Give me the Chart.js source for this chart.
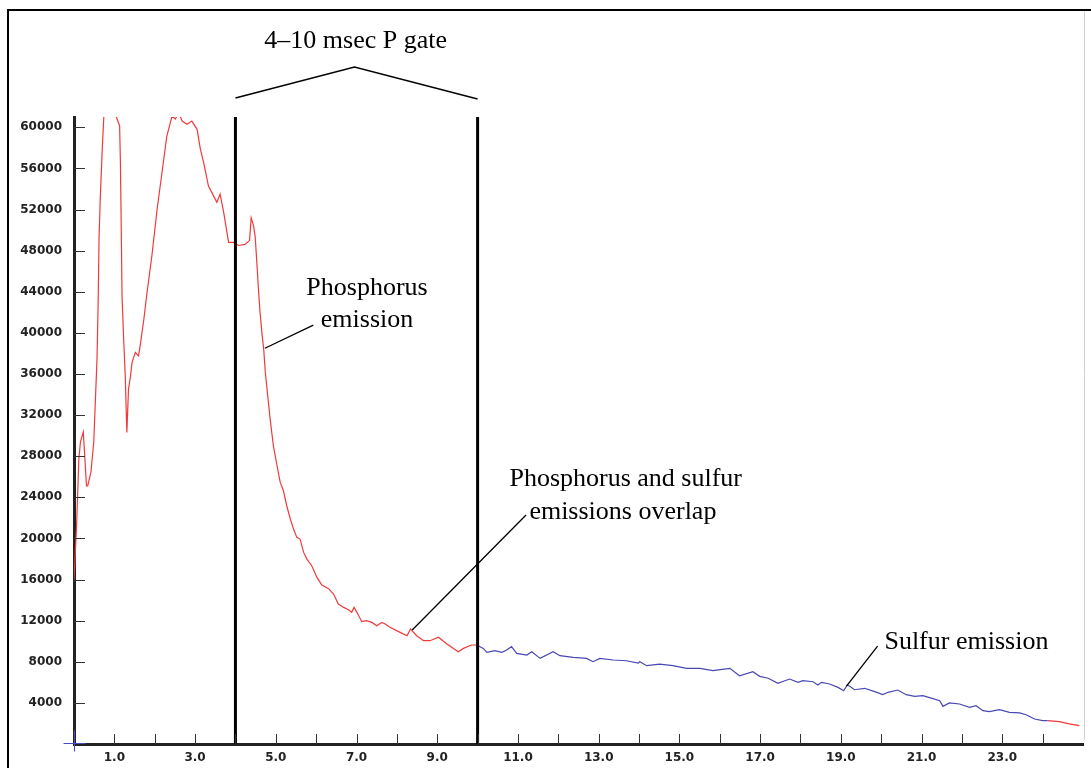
<!DOCTYPE html>
<html>
<head>
<meta charset="utf-8">
<script src="https://cdn.jsdelivr.net/npm/chart.js@4.4.0/dist/chart.umd.min.js"></script>
<style>
html,body{margin:0;padding:0;background:#fff;}
#wrap{position:relative;width:1091px;height:768px;}
</style>
</head>
<body>
<div id="wrap"><canvas id="c" width="1091" height="768"></canvas></div>
<script>
// Phosphorus emission (red, 0 - 10 ms)
const pTime  = [0.00,0.06,0.09,0.12,0.16,0.23,0.31,0.34,0.42,0.49,0.57,0.60,0.62,0.65,0.70,0.74,0.80,0.90,0.98,1.02,1.13,1.15,1.17,1.19,1.23,1.27,1.30,1.31,1.35,1.40,1.44,1.52,1.60,1.64,1.73,1.81,1.93,2.06,2.18,2.30,2.43,2.51,2.59,2.68,2.80,2.92,3.05,3.13,3.21,3.33,3.46,3.54,3.62,3.71,3.83,3.95,4.08,4.24,4.35,4.39,4.45,4.49,4.53,4.57,4.61,4.66,4.70,4.74,4.80,4.86,4.94,5.03,5.11,5.19,5.27,5.36,5.44,5.52,5.60,5.69,5.77,5.89,6.02,6.14,6.30,6.43,6.55,6.68,6.80,6.88,6.94,7.01,7.13,7.25,7.38,7.50,7.63,7.71,7.83,8.08,8.25,8.34,8.49,8.66,8.82,9.03,9.24,9.52,9.65,9.85,9.98];
const pValue = [16000,20900,24150,27700,29400,30350,25100,25100,26450,29400,37450,43300,49100,53000,57900,61100,66000,67000,64000,61300,60150,56600,50400,43600,39400,35800,31600,30300,34500,35800,37150,38100,37750,38750,41300,43950,47500,52050,55600,59150,61100,60800,61400,60600,60300,60600,59800,57900,56600,54300,53300,52700,53500,51700,48800,48800,48500,48600,49000,51200,50400,49300,46850,44250,42000,39800,38430,36160,33880,31610,29020,27070,25450,24640,23180,21890,20910,20100,19940,18640,17990,17340,16210,15460,15140,14590,13620,13290,13060,12810,13290,12810,11900,12000,11830,11510,11830,11670,11350,10860,10530,11190,10530,10050,10050,10380,9730,8980,9300,9630,9630];
// Sulfur emission (blue, 10 - 24 ms)
const sTime  = [9.98,10.14,10.23,10.43,10.60,10.72,10.84,10.97,11.22,11.34,11.55,11.87,12.04,12.37,12.70,12.86,13.03,13.36,13.69,13.98,14.02,14.19,14.51,14.84,15.18,15.51,15.83,16.25,16.49,16.82,16.99,17.20,17.44,17.73,17.94,18.06,18.31,18.43,18.52,18.72,18.93,19.07,19.16,19.22,19.34,19.59,19.84,20.04,20.17,20.41,20.62,20.83,21.03,21.24,21.45,21.53,21.69,21.94,22.19,22.35,22.52,22.68,22.93,23.18,23.43,23.59,23.80,24.00,24.12];
const sValue = [9630,9300,8920,9080,8920,9150,9470,8820,8650,8980,8330,8980,8590,8430,8330,8010,8330,8170,8100,7880,8010,7620,7780,7620,7360,7360,7130,7360,6640,7030,6580,6400,5900,6320,6000,6160,6060,5740,6000,5840,5510,5190,5740,5610,5280,5420,5090,4800,5030,5250,4800,4640,4700,4470,4210,3660,3990,3890,3570,3730,3240,3150,3340,3080,3020,2850,2430,2270,2270];
// Tail (red, after 24 ms)
const tTime  = [24.12,24.41,24.66,24.91];
const tValue = [2270,2170,1950,1780];
// Gate limits (ms)
const gateStart = 4;
const gateEnd = 10;
// Axis ranges and ticks
const xMin = 0, xMax = 25;
const yMin = 0, yMax = 61000;
const xTicks = [1,2,3,4,5,6,7,8,9,10,11,12,13,14,15,16,17,18,19,20,21,22,23,24];
const xTickLabels = ["1.0","","3.0","","5.0","","7.0","","9.0","","11.0","","13.0","","15.0","","17.0","","19.0","","21.0","","23.0",""];
const yTicks = [4000,8000,12000,16000,20000,24000,28000,32000,36000,40000,44000,48000,52000,56000,60000];
const yTickLabels = ["4000","8000","12000","16000","20000","24000","28000","32000","36000","40000","44000","48000","52000","56000","60000"];
// Annotation texts
const gateLabel = "4–10 msec P gate";
const pLabel = ["Phosphorus", "emission"];
const overlapLabel = ["Phosphorus and sulfur", "emissions overlap"];
const sLabel = "Sulfur emission";

const toXY = (ts, vs) => ts.map((t, i) => ({x: t, y: vs[i]}));

const decor = {
  id: 'decor',
  afterDraw(chart) {
    const ctx = chart.ctx;
    const xs = chart.scales.x, ys = chart.scales.y;
    const X = v => xs.getPixelForValue(v), Y = v => ys.getPixelForValue(v);
    const ca = chart.chartArea;
    ctx.save();
    // frame
    ctx.strokeStyle = '#000'; ctx.lineWidth = 2;
    ctx.beginPath(); ctx.moveTo(8, 768); ctx.lineTo(8, 10); ctx.lineTo(1091, 10); ctx.stroke();
    ctx.strokeStyle = '#d0d0d0'; ctx.lineWidth = 1;
    ctx.beginPath(); ctx.moveTo(1084.5, 11); ctx.lineTo(1084.5, ca.bottom - 4); ctx.stroke();
    // inner tick marks
    ctx.strokeStyle = '#333'; ctx.lineWidth = 1;
    ctx.beginPath();
    yTicks.forEach(v => {
      const py = Math.round(Y(v)) + 0.5;
      ctx.moveTo(ca.left, py); ctx.lineTo(ca.left + 11, py);
    });
    xTicks.forEach(v => {
      const px = Math.round(X(v)) + 0.5;
      ctx.moveTo(px, ca.bottom); ctx.lineTo(px, ca.bottom - 10);
    });
    ctx.stroke();
    // blue origin cross
    ctx.strokeStyle = '#4a4ac8'; ctx.lineWidth = 1;
    const ox = Math.round(X(0)) + 0.5, oy = Math.round(Y(0)) - 0.5;
    ctx.beginPath();
    ctx.moveTo(ox - 11, oy); ctx.lineTo(ox + 11, oy);
    ctx.moveTo(ox, oy - 13); ctx.lineTo(ox, oy + 8);
    ctx.stroke();
    // gate bracket
    ctx.strokeStyle = '#000'; ctx.lineWidth = 1.3;
    ctx.beginPath();
    ctx.moveTo(X(gateStart), ca.top - 19);
    ctx.lineTo(X((gateStart + gateEnd) / 2 - 0.05), ca.top - 50);
    ctx.lineTo(X(gateEnd), ca.top - 18);
    ctx.stroke();
    // leader lines
    ctx.beginPath();
    ctx.moveTo(X(4.73), Y(38500)); ctx.lineTo(X(5.93), Y(40760));
    ctx.moveTo(X(8.38), Y(11090)); ctx.lineTo(X(11.20), Y(22280));
    ctx.moveTo(X(19.14), Y(5640)); ctx.lineTo(X(19.91), Y(9530));
    ctx.stroke();
    // texts
    ctx.fillStyle = '#000';
    ctx.font = '26px "Liberation Serif", "Times New Roman", serif';
    ctx.textBaseline = 'middle';
    ctx.textAlign = 'center';
    ctx.fillText(gateLabel, X(6.98), 41);
    ctx.fillText(pLabel[0], X(7.26), Y(44360));
    ctx.fillText(pLabel[1], X(7.26), Y(41250));
    ctx.fillText(overlapLabel[0], X(13.67), Y(25780));
    ctx.fillText(overlapLabel[1], X(13.60), Y(22570));
    ctx.textAlign = 'left';
    ctx.fillText(sLabel, X(20.08), Y(9920));
    ctx.restore();
  }
};

new Chart(document.getElementById('c'), {
  type: 'line',
  data: {
    datasets: [
      {data: [{x: gateStart, y: yMin}, {x: gateStart, y: yMax}], borderColor: '#000', borderWidth: 3, pointRadius: 0, order: 0},
      {data: [{x: gateEnd, y: yMin}, {x: gateEnd, y: yMax}], borderColor: '#000', borderWidth: 3, pointRadius: 0, order: 0},
      {data: toXY(pTime, pValue), borderColor: '#f03a3a', borderWidth: 1.2, pointRadius: 0, tension: 0, order: 1},
      {data: toXY(sTime, sValue), borderColor: '#4848b4', borderWidth: 1.2, pointRadius: 0, tension: 0, order: 1},
      {data: toXY(tTime, tValue), borderColor: '#f03a3a', borderWidth: 1.2, pointRadius: 0, tension: 0, order: 1}
    ]
  },
  options: {
    responsive: false,
    animation: false,
    events: [],
    layout: {padding: {top: 117, right: 8, left: 0, bottom: 0}},
    plugins: {legend: {display: false}, tooltip: {enabled: false}},
    scales: {
      x: {
        type: 'linear', min: xMin, max: xMax,
        grid: {display: false, drawTicks: false},
        border: {display: true, color: '#222', width: 3},
        afterFit: s => { s.height = 24; },
        afterBuildTicks: s => { s.ticks = xTicks.map(v => ({value: v})); },
        ticks: {
          autoSkip: false, maxRotation: 0, padding: 7,
          color: '#222', font: {family: '"DejaVu Sans", sans-serif', weight: 'bold', size: 12},
          callback: (v, i) => xTickLabels[i]
        }
      },
      y: {
        type: 'linear', min: yMin, max: yMax,
        grid: {display: false, drawTicks: false},
        border: {display: true, color: '#222', width: 3},
        afterFit: s => { s.width = 74; },
        afterBuildTicks: s => { s.ticks = yTicks.map(v => ({value: v})); },
        ticks: {
          autoSkip: false, padding: 12,
          color: '#222', font: {family: '"DejaVu Sans", sans-serif', weight: 'bold', size: 12},
          callback: (v, i) => yTickLabels[i]
        }
      }
    }
  },
  plugins: [decor]
});
</script>
</body>
</html>
